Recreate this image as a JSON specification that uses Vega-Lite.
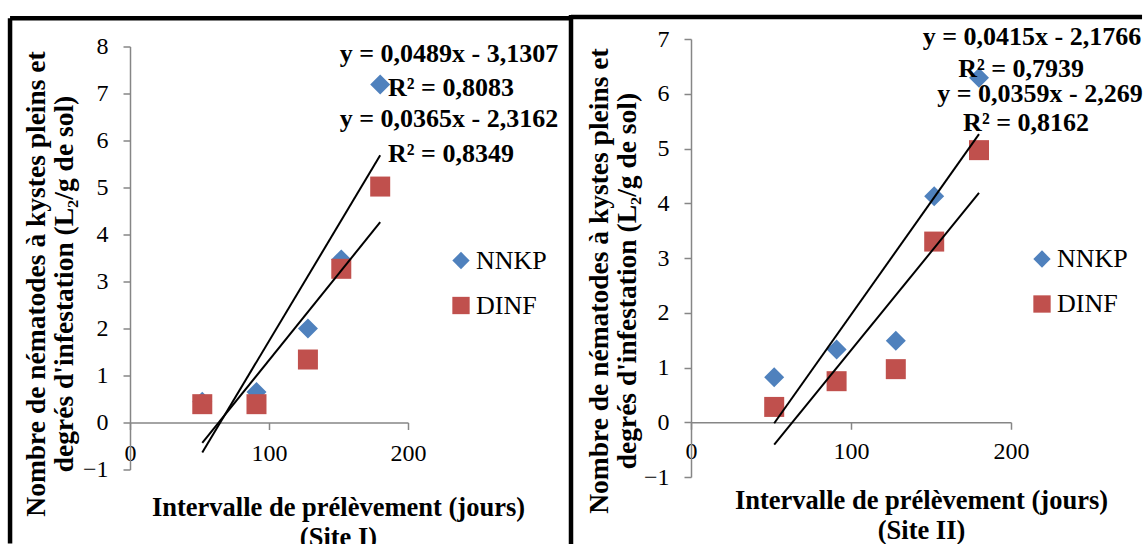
{
  "$schema": "https://vega.github.io/schema/vega-lite/v6.json",
  "padding": {"left": 7, "top": 12, "right": 0, "bottom": 0},
  "background": "white",
  "bounds": "flush",
  "center": true,
  "spacing": 283,
  "resolve": {
    "scale": {"color": "independent", "shape": "independent"},
    "legend": {"color": "independent", "shape": "independent"}
  },
  "config": {
    "font": "Liberation Serif",
    "view": {"stroke": null},
    "axis": {
      "grid": false,
      "domainColor": "#868686",
      "tickColor": "#868686",
      "domainWidth": 1.5,
      "tickWidth": 1.5,
      "tickSize": 7,
      "labelFont": "Times New Roman, Liberation Serif, serif",
      "labelFontSize": 24,
      "labelFontWeight": "normal",
      "labelColor": "black",
      "titleFont": "Liberation Serif",
      "titleFontSize": 26.5,
      "titleFontWeight": "bold",
      "titleColor": "black"
    },
    "legend": {
      "labelFont": "Times New Roman, Liberation Serif, serif",
      "labelFontSize": 26,
      "labelFontWeight": "normal",
      "labelColor": "black",
      "symbolSize": 300,
      "rowPadding": 19,
      "labelOffset": 2,
      "padding": 0
    }
  },
  "datasets": {
    "site1": [
      {"series": "NNKP", "x": 52, "y": 0.44},
      {"series": "NNKP", "x": 91, "y": 0.65},
      {"series": "NNKP", "x": 128, "y": 2.0},
      {"series": "NNKP", "x": 152, "y": 3.47},
      {"series": "NNKP", "x": 180, "y": 7.19},
      {"series": "DINF", "x": 52, "y": 0.39},
      {"series": "DINF", "x": 91, "y": 0.39},
      {"series": "DINF", "x": 128, "y": 1.34},
      {"series": "DINF", "x": 152, "y": 3.27},
      {"series": "DINF", "x": 180, "y": 5.02}
    ],
    "site2": [
      {"series": "NNKP", "x": 52, "y": 0.82},
      {"series": "NNKP", "x": 91, "y": 1.33},
      {"series": "NNKP", "x": 128, "y": 1.49},
      {"series": "NNKP", "x": 152, "y": 4.13},
      {"series": "NNKP", "x": 180, "y": 6.29},
      {"series": "DINF", "x": 52, "y": 0.28},
      {"series": "DINF", "x": 91, "y": 0.75},
      {"series": "DINF", "x": 128, "y": 0.97},
      {"series": "DINF", "x": 152, "y": 3.3},
      {"series": "DINF", "x": 180, "y": 4.97}
    ]
  },
  "hconcat": [
    {
      "width": 278,
      "height": 423,
      "layer": [
        {
          "data": {"values": [{}]},
          "mark": {"type": "rule", "color": "black", "strokeWidth": 4.5},
          "encoding": {
            "x": {"datum": -86.3, "scale": {"domain": [0, 200], "nice": false}},
            "x2": {"datum": 317.3},
            "y": {"datum": 8.6, "scale": {"domain": [-1, 8], "nice": false}}
          }
        },
        {
          "data": {"values": [{}]},
          "mark": {"type": "rule", "color": "black", "strokeWidth": 4.5},
          "encoding": {
            "x": {"datum": -86.3, "scale": {"domain": [0, 200], "nice": false}},
            "y": {"datum": 8.6, "scale": {"domain": [-1, 8], "nice": false}},
            "y2": {"datum": -2.577}
          }
        },
        {
          "data": {"name": "site1"},
          "mark": {"type": "point", "filled": true, "opacity": 1, "size": 400},
          "encoding": {
            "x": {
              "field": "x", "type": "quantitative",
              "scale": {"domain": [0, 200], "nice": false},
              "axis": {
                "values": [0, 100, 200],
                "offset": -47,
                "labelPadding": 24,
                "labelBaseline": "middle",
                "labelFlush": false,
                "labelOverlap": false,
                "title": ["Intervalle de prélèvement (jours)", "(Site I)"],
                "titleX": 208,
                "titleY": 85,
                "titleBaseline": "middle",
                "titleLineHeight": 30
              }
            },
            "y": {
              "field": "y", "type": "quantitative",
              "scale": {"domain": [-1, 8], "nice": false},
              "axis": {
                "values": [-1, 0, 1, 2, 3, 4, 5, 6, 7, 8],
                "labelPadding": 15,
                "title": ["Nombre de nématodes à kystes pleins et", "degrés d'infestation (L₂/g de sol)"],
                "titleFontSize": 27.5,
                "titleX": -94,
                "titleY": 237,
                "titleAngle": -90,
                "titleAlign": "center",
                "titleBaseline": "middle",
                "titleLineHeight": 28
              }
            },
            "color": {
              "field": "series", "type": "nominal",
              "scale": {"domain": ["NNKP", "DINF"], "range": ["#4F81BD", "#C0504D"]},
              "legend": {"title": null, "orient": "none", "legendX": 318, "legendY": 201}
            },
            "shape": {
              "field": "series", "type": "nominal",
              "scale": {"domain": ["NNKP", "DINF"], "range": ["diamond", "square"]},
              "legend": {"title": null, "orient": "none", "legendX": 318, "legendY": 201}
            }
          }
        },
        {
          "data": {"name": "site1"},
          "transform": [{"regression": "y", "on": "x", "groupby": ["series"], "extent": [52, 180]}],
          "mark": {"type": "line", "color": "black", "strokeWidth": 2},
          "encoding": {
            "x": {"field": "x", "type": "quantitative", "scale": {"domain": [0, 200], "nice": false}},
            "y": {"field": "y", "type": "quantitative", "scale": {"domain": [-1, 8], "nice": false}},
            "detail": {"field": "series"}
          }
        },
        {
          "data": {"values": [{}]},
          "mark": {"type": "text", "text": "y = 0,0489x - 3,1307", "font": "Liberation Serif", "fontSize": 26, "fontWeight": "bold", "color": "black", "align": "center", "baseline": "middle"},
          "encoding": {"x": {"datum": 229.5}, "y": {"datum": 7.84}}
        },
        {
          "data": {"values": [{}]},
          "mark": {"type": "text", "text": "R² = 0,8083", "font": "Liberation Serif", "fontSize": 26, "fontWeight": "bold", "color": "black", "align": "center", "baseline": "middle"},
          "encoding": {"x": {"datum": 230.9}, "y": {"datum": 7.11}}
        },
        {
          "data": {"values": [{}]},
          "mark": {"type": "text", "text": "y = 0,0365x - 2,3162", "font": "Liberation Serif", "fontSize": 26, "fontWeight": "bold", "color": "black", "align": "center", "baseline": "middle"},
          "encoding": {"x": {"datum": 229.5}, "y": {"datum": 6.45}}
        },
        {
          "data": {"values": [{}]},
          "mark": {"type": "text", "text": "R² = 0,8349", "font": "Liberation Serif", "fontSize": 26, "fontWeight": "bold", "color": "black", "align": "center", "baseline": "middle"},
          "encoding": {"x": {"datum": 230.9}, "y": {"datum": 5.71}}
        }
      ]
    },
    {
      "width": 320,
      "height": 438,
      "layer": [
        {
          "data": {"values": [{}]},
          "mark": {"type": "rule", "color": "black", "strokeWidth": 4.5},
          "encoding": {
            "x": {"datum": -75, "scale": {"domain": [0, 200], "nice": false}},
            "x2": {"datum": 281.9},
            "y": {"datum": 7.4, "scale": {"domain": [-1, 7], "nice": false}}
          }
        },
        {
          "data": {"values": [{}]},
          "mark": {"type": "rule", "color": "black", "strokeWidth": 4.5},
          "encoding": {
            "x": {"datum": -75, "scale": {"domain": [0, 200], "nice": false}},
            "y": {"datum": 7.44, "scale": {"domain": [-1, 7], "nice": false}},
            "y2": {"datum": -2.223}
          }
        },
        {
          "data": {"name": "site2"},
          "mark": {"type": "point", "filled": true, "opacity": 1, "size": 400},
          "encoding": {
            "x": {
              "field": "x", "type": "quantitative",
              "scale": {"domain": [0, 200], "nice": false},
              "axis": {
                "values": [0, 100, 200],
                "offset": -54.75,
                "labelPadding": 22,
                "labelBaseline": "middle",
                "labelFlush": false,
                "labelOverlap": false,
                "title": ["Intervalle de prélèvement (jours)", "(Site II)"],
                "titleX": 230,
                "titleY": 78,
                "titleBaseline": "middle",
                "titleLineHeight": 30
              }
            },
            "y": {
              "field": "y", "type": "quantitative",
              "scale": {"domain": [-1, 7], "nice": false},
              "axis": {
                "values": [-1, 0, 1, 2, 3, 4, 5, 6, 7],
                "labelPadding": 15,
                "title": ["Nombre de nématodes à kystes pleins et", "degrés d'infestation (L₂/g de sol)"],
                "titleFontSize": 27.5,
                "titleX": -92,
                "titleY": 241.6,
                "titleAngle": -90,
                "titleAlign": "center",
                "titleBaseline": "middle",
                "titleLineHeight": 28
              }
            },
            "color": {
              "field": "series", "type": "nominal",
              "scale": {"domain": ["NNKP", "DINF"], "range": ["#4F81BD", "#C0504D"]},
              "legend": {"title": null, "orient": "none", "legendX": 338, "legendY": 207}
            },
            "shape": {
              "field": "series", "type": "nominal",
              "scale": {"domain": ["NNKP", "DINF"], "range": ["diamond", "square"]},
              "legend": {"title": null, "orient": "none", "legendX": 338, "legendY": 207}
            }
          }
        },
        {
          "data": {"name": "site2"},
          "transform": [{"regression": "y", "on": "x", "groupby": ["series"], "extent": [52, 180]}],
          "mark": {"type": "line", "color": "black", "strokeWidth": 2},
          "encoding": {
            "x": {"field": "x", "type": "quantitative", "scale": {"domain": [0, 200], "nice": false}},
            "y": {"field": "y", "type": "quantitative", "scale": {"domain": [-1, 7], "nice": false}},
            "detail": {"field": "series"}
          }
        },
        {
          "data": {"values": [{}]},
          "mark": {"type": "text", "text": "y = 0,0415x - 2,1766", "font": "Liberation Serif", "fontSize": 26, "fontWeight": "bold", "color": "black", "align": "center", "baseline": "middle"},
          "encoding": {"x": {"datum": 213.1}, "y": {"datum": 7.03}}
        },
        {
          "data": {"values": [{}]},
          "mark": {"type": "text", "text": "R² = 0,7939", "font": "Liberation Serif", "fontSize": 26, "fontWeight": "bold", "color": "black", "align": "center", "baseline": "middle"},
          "encoding": {"x": {"datum": 206.3}, "y": {"datum": 6.46}}
        },
        {
          "data": {"values": [{}]},
          "mark": {"type": "text", "text": "y = 0,0359x - 2,269", "font": "Liberation Serif", "fontSize": 26, "fontWeight": "bold", "color": "black", "align": "center", "baseline": "middle"},
          "encoding": {"x": {"datum": 218.1}, "y": {"datum": 6.0}}
        },
        {
          "data": {"values": [{}]},
          "mark": {"type": "text", "text": "R² = 0,8162", "font": "Liberation Serif", "fontSize": 26, "fontWeight": "bold", "color": "black", "align": "center", "baseline": "middle"},
          "encoding": {"x": {"datum": 209.4}, "y": {"datum": 5.47}}
        }
      ]
    }
  ]
}
